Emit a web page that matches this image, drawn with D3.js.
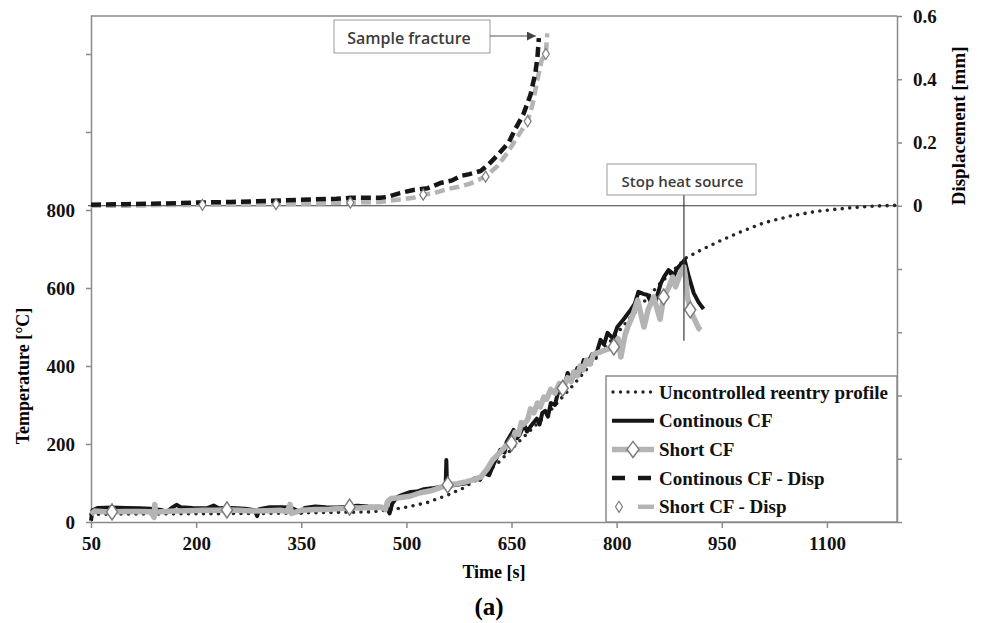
<!DOCTYPE html>
<html>
<head>
<meta charset="utf-8">
<script src="https://cdn.jsdelivr.net/npm/d3@7"></script>
<style>
  body { margin: 0; background: #fff; }
  svg { display: block; }
</style>
</head>
<body>
<div class="chart"></div>
<script>
// time [s] , temperature [°C]
const reentryProfile = [[50,20],[300,22],[450,26],[480,32],[500,38],[530,50],[560,70],[580,86],[600,108],[630,150],[660,205],[700,275],[740,355],[780,440],[820,525],[860,608],[899,677],[920,697],[949,722],[977,744],[1010,767],[1049,785],[1087,797],[1130,805],[1167,810],[1200,812]]

const continousCF = [[50,3],[52,30],[60,36],[80,37],[100,36],[120,35],[135,34],[150,31],[158,26],[165,36],[172,44],[178,38],[195,36],[215,35],[225,42],[232,35],[250,36],[270,34],[284,30],[287,15],[290,33],[305,38],[320,38],[335,37],[350,24],[355,36],[370,40],[385,38],[400,37],[415,39],[430,42],[445,40],[460,39],[472,38],[476,22],[480,48],[487,64],[495,70],[506,77],[515,78],[525,84],[539,87],[550,90],[556,92],[557,159],[558,92],[570,95],[587,100],[598,112],[605,108],[610,126],[618,120],[625,150],[634,185],[640,178],[643,205],[653,236],[658,215],[662,225],[668,250],[672,232],[681,254],[686,265],[690,250],[694,280],[698,285],[702,270],[706,305],[712,300],[716,330],[720,350],[725,340],[730,382],[735,365],[740,375],[744,395],[748,385],[753,415],[758,405],[765,430],[770,425],[777,467],[782,455],[787,485],[795,470],[801,500],[810,520],[820,544],[826,560],[831,590],[838,585],[844,582],[850,560],[856,569],[863,612],[868,630],[874,646],[878,640],[881,628],[886,650],[891,659],[897,672],[903,629],[910,587],[917,563],[924,546]]

const shortCF = [[50,20],[55,28],[70,26],[80,26],[100,27],[120,27],[135,26],[140,12],[141,45],[142,25],[155,27],[170,28],[190,29],[210,30],[230,30],[244,31],[260,30],[280,28],[300,29],[320,30],[330,27],[334,45],[336,22],[350,30],[370,32],[390,33],[410,35],[419,38],[430,36],[450,37],[465,38],[470,32],[473,52],[478,60],[490,62],[505,66],[520,75],[535,80],[548,88],[559,95],[572,98],[585,103],[595,108],[606,115],[615,135],[623,159],[632,175],[642,195],[650,202],[655,230],[660,225],[664,255],[667,250],[673,262],[677,290],[682,280],[687,305],[691,295],[696,320],[700,315],[706,340],[712,330],[718,355],[723,343],[730,370],[735,360],[739,385],[744,375],[748,400],[752,390],[757,415],[762,405],[767,430],[775,435],[782,440],[790,445],[796,449],[802,470],[806,423],[812,480],[816,500],[823,530],[830,569],[835,530],[839,500],[845,545],[853,577],[858,545],[862,520],[867,577],[874,600],[880,628],[884,603],[891,638],[896,654],[899,620],[901,577],[905,544],[911,520],[917,497],[920,492]]
const shortCFMarkerTimes = [80, 244, 419, 559, 650, 723, 796, 867, 905]

// time [s] , displacement [mm]
const continousDisp = [[50,0.003],[100,0.005],[150,0.007],[200,0.01],[250,0.012],[300,0.015],[349,0.019],[400,0.022],[420,0.025],[463,0.025],[473,0.028],[491,0.04],[510,0.05],[530,0.055],[549,0.072],[565,0.08],[577,0.094],[590,0.10],[606,0.11],[617,0.13],[630,0.16],[646,0.20],[656,0.245],[667,0.29],[677,0.35],[684,0.42],[687,0.47],[689,0.53]]

const shortDisp = [[50,0],[100,0],[150,0.002],[209,0.003],[260,0.004],[314,0.005],[370,0.007],[420,0.01],[463,0.012],[490,0.02],[510,0.025],[524,0.035],[540,0.04],[559,0.053],[575,0.06],[591,0.07],[613,0.092],[630,0.126],[644,0.167],[659,0.22],[673,0.267],[680,0.32],[687,0.40],[693,0.46],[699,0.48],[701,0.545]]
const shortDispMarkerTimes = [209, 314, 420, 524, 613, 673, 699]

const xTicks = [50, 200, 350, 500, 650, 800, 950, 1100]
const tempTicks = [0, 200, 400, 600, 800, 1000, 1200]
const tempLabels = [0, 200, 400, 600, 800]
const dispTicks = [-1, -0.8, -0.6, -0.4, -0.2, 0, 0.2, 0.4, 0.6]
const dispLabels = [0, 0.2, 0.4, 0.6]

const legendNames = ["Uncontrolled reentry profile", "Continous CF", "Short CF", "Continous CF - Disp", "Short CF - Disp"]

const colors = {
  black: "#161616",
  grey: "#b4b4b4",
  markerStroke: "#7c7c7c",
  frame: "#8a8a8a",
  text: "#111"
}

const dims = { width: 981, height: 623, left: 91, right: 897, top: 16, bottom: 522 }

const xScale = d3.scaleLinear().domain([50, 1200]).range([dims.left, dims.right])
const yTemp = d3.scaleLinear().domain([0, 1300]).range([dims.bottom, dims.top - 1])
const yDisp = d3.scaleLinear().domain([-1, 0.6]).range([dims.bottom, dims.top])

const tempLine = d3.line().x(d => xScale(d[0])).y(d => yTemp(d[1]))
const dispLine = d3.line().x(d => xScale(d[0])).y(d => yDisp(d[1]))

const serif = "'Liberation Serif', 'Times New Roman', serif"
const sans = "'Open Sans', 'Noto Sans', sans-serif"

const svg = d3.select(".chart").append("svg")
    .attr("width", dims.width)
    .attr("height", dims.height)
    .style("font-family", serif)

// axes
const styleAxis = g => {
  g.select(".domain").attr("stroke", colors.frame).attr("stroke-width", 1.5)
  g.selectAll(".tick line").attr("stroke", colors.frame).attr("stroke-width", 1.5)
  g.selectAll("text")
    .attr("fill", colors.text)
    .style("font-size", "19px")
    .style("font-weight", "bold")
    .style("font-family", serif)
}

svg.append("g")
    .attr("transform", `translate(0,${dims.bottom})`)
    .call(d3.axisBottom(xScale).tickValues(xTicks).tickSize(6).tickPadding(9).tickSizeOuter(0)
      .tickFormat(d3.format("d")))
    .call(styleAxis)

svg.append("g")
    .attr("transform", `translate(${dims.left},0)`)
    .call(d3.axisLeft(yTemp).tickValues(tempTicks).tickSize(5).tickPadding(11).tickSizeOuter(0)
      .tickFormat(d => tempLabels.includes(d) ? d : ""))
    .call(styleAxis)

svg.append("g")
    .attr("transform", `translate(${dims.right},0)`)
    .call(d3.axisRight(yDisp).tickValues(dispTicks).tickSize(5).tickPadding(11).tickSizeOuter(0)
      .tickFormat(d => dispLabels.some(v => Math.abs(v - d) < 1e-9) ? String(+d.toFixed(1)) : ""))
    .call(styleAxis)

// top border of plot area
svg.append("line")
    .attr("x1", dims.left).attr("x2", dims.right)
    .attr("y1", dims.top).attr("y2", dims.top)
    .attr("stroke", colors.frame).attr("stroke-width", 1.5)

// zero line of displacement axis
svg.append("line")
    .attr("x1", dims.left - 3).attr("x2", dims.right)
    .attr("y1", yDisp(0)).attr("y2", yDisp(0))
    .attr("stroke", "#3a3a3a").attr("stroke-width", 1.2)

// axis titles
svg.append("text")
    .attr("transform", `translate(23,${(yTemp(200) + yTemp(600)) / 2 + 10}) rotate(-90)`)
    .attr("text-anchor", "middle")
    .attr("dominant-baseline", "central")
    .style("font-size", "18px").style("font-weight", "bold")
    .text("Temperature [°C]")

svg.append("text")
    .attr("transform", `translate(958,${yDisp(0.3) + 15}) rotate(-90)`)
    .attr("text-anchor", "middle")
    .attr("dominant-baseline", "central")
    .style("font-size", "19px").style("font-weight", "bold")
    .text("Displacement [mm]")

svg.append("text")
    .attr("x", 494).attr("y", 578)
    .attr("text-anchor", "middle")
    .style("font-size", "18px").style("font-weight", "bold")
    .text("Time [s]")

svg.append("text")
    .attr("x", 489).attr("y", 615)
    .attr("text-anchor", "middle")
    .style("font-size", "25px").style("font-weight", "bold")
    .text("(a)")

// series
const plot = svg.append("g")

plot.append("path")
    .attr("d", tempLine(reentryProfile))
    .attr("fill", "none")
    .attr("stroke", "#262626")
    .attr("stroke-width", 3.6)
    .attr("stroke-linecap", "round")
    .attr("stroke-dasharray", "0,7.5")

plot.append("path")
    .attr("d", tempLine(continousCF))
    .attr("fill", "none")
    .attr("stroke", colors.black)
    .attr("stroke-width", 4)
    .attr("stroke-linejoin", "round")

plot.append("path")
    .attr("d", tempLine(shortCF))
    .attr("fill", "none")
    .attr("stroke", colors.grey)
    .attr("stroke-width", 5.5)
    .attr("stroke-linejoin", "round")

plot.append("path")
    .attr("d", dispLine(shortDisp))
    .attr("fill", "none")
    .attr("stroke", colors.grey)
    .attr("stroke-width", 4.5)
    .attr("stroke-dasharray", "10,5")

plot.append("path")
    .attr("d", dispLine(continousDisp))
    .attr("fill", "none")
    .attr("stroke", colors.black)
    .attr("stroke-width", 4.5)
    .attr("stroke-dasharray", "10,5")

const diamond = (w, h) => `M0,${-h / 2}L${w / 2},0L0,${h / 2}L${-w / 2},0Z`

const shortMarkers = shortCFMarkerTimes.map(t => shortCF.find(d => d[0] === t))
plot.selectAll(".short-marker")
  .data(shortMarkers)
  .join("path")
    .attr("class", "short-marker")
    .attr("transform", d => `translate(${xScale(d[0])},${yTemp(d[1])})`)
    .attr("d", diamond(11, 16))
    .attr("fill", "#fff")
    .attr("stroke", colors.markerStroke)
    .attr("stroke-width", 1.5)

const dispMarkers = shortDispMarkerTimes.map(t => shortDisp.find(d => d[0] === t))
plot.selectAll(".disp-marker")
  .data(dispMarkers)
  .join("path")
    .attr("class", "disp-marker")
    .attr("transform", d => `translate(${xScale(d[0])},${yDisp(d[1])})`)
    .attr("d", diamond(7, 11))
    .attr("fill", "#fff")
    .attr("stroke", colors.markerStroke)
    .attr("stroke-width", 1.2)

// annotations
const fractureTip = continousDisp[continousDisp.length - 1]
const fracBox = { x: 334, y: 20, w: 156, h: 33 }
svg.append("defs").append("marker")
    .attr("id", "arrow")
    .attr("viewBox", "0 0 10 10")
    .attr("refX", 10).attr("refY", 5)
    .attr("markerWidth", 9).attr("markerHeight", 9)
    .attr("markerUnits", "userSpaceOnUse")
    .attr("orient", "auto")
  .append("path")
    .attr("d", "M0,0L10,5L0,10Z")
    .attr("fill", "#444")

svg.append("rect")
    .attr("x", fracBox.x).attr("y", fracBox.y)
    .attr("width", fracBox.w).attr("height", fracBox.h)
    .attr("fill", "#fff").attr("stroke", "#9a9a9a")
svg.append("text")
    .attr("x", fracBox.x + fracBox.w / 2 - 3).attr("y", fracBox.y + fracBox.h / 2 + 1)
    .attr("text-anchor", "middle").attr("dominant-baseline", "central")
    .style("font-family", sans).style("font-size", "16px").style("font-weight", 600)
    .attr("fill", "#3c3c3c")
    .text("Sample fracture")
svg.append("line")
    .attr("x1", fracBox.x + fracBox.w).attr("y1", fracBox.y + 16)
    .attr("x2", xScale(fractureTip[0]) - 3).attr("y2", fracBox.y + 16)
    .attr("stroke", "#555").attr("stroke-width", 1.2)
    .attr("marker-end", "url(#arrow)")

const stopTime = 896
const stopBox = { x: 607, y: 164, w: 149, h: 31 }
svg.append("line")
    .attr("x1", xScale(stopTime)).attr("x2", xScale(stopTime))
    .attr("y1", stopBox.y + stopBox.h).attr("y2", yTemp(465))
    .attr("stroke", "#3a3a3a").attr("stroke-width", 1.2)
svg.append("rect")
    .attr("x", stopBox.x).attr("y", stopBox.y)
    .attr("width", stopBox.w).attr("height", stopBox.h)
    .attr("fill", "#fff").attr("stroke", "#9a9a9a")
svg.append("text")
    .attr("x", stopBox.x + stopBox.w / 2 + 1).attr("y", stopBox.y + stopBox.h / 2 + 1)
    .attr("text-anchor", "middle").attr("dominant-baseline", "central")
    .style("font-family", sans).style("font-size", "15px").style("font-weight", 600)
    .attr("fill", "#3c3c3c")
    .text("Stop heat source")

// legend
const legend = svg.append("g")
legend.append("rect")
    .attr("x", 606).attr("y", 376)
    .attr("width", dims.right - 606).attr("height", dims.bottom - 376)
    .attr("fill", "#fff").attr("stroke", colors.frame).attr("stroke-width", 1.5)

const rows = legend.selectAll(".row")
  .data(legendNames)
  .join("g")
    .attr("class", "row")
    .attr("transform", (d, i) => `translate(612,${392 + i * 28.7})`)

rows.append("text")
    .attr("x", 47).attr("y", 0)
    .attr("dominant-baseline", "central")
    .style("font-size", "19px").style("font-weight", "bold")
    .attr("fill", colors.text)
    .text(d => d)

const sample = (i) => rows.filter((d, j) => j === i)

sample(0).append("line")
    .attr("x1", 1).attr("x2", 42).attr("y1", 0).attr("y2", 0)
    .attr("stroke", "#262626").attr("stroke-width", 3.4)
    .attr("stroke-linecap", "round").attr("stroke-dasharray", "0,7.5")

sample(1).append("line")
    .attr("x1", 0).attr("x2", 42).attr("y1", 0).attr("y2", 0)
    .attr("stroke", colors.black).attr("stroke-width", 4)

sample(2).append("line")
    .attr("x1", 0).attr("x2", 42).attr("y1", 0).attr("y2", 0)
    .attr("stroke", colors.grey).attr("stroke-width", 5.5)
sample(2).append("path")
    .attr("transform", "translate(21,0)")
    .attr("d", diamond(12, 16))
    .attr("fill", "#fff").attr("stroke", colors.markerStroke).attr("stroke-width", 1.5)

sample(3).append("line")
    .attr("x1", 0).attr("x2", 42).attr("y1", 0).attr("y2", 0)
    .attr("stroke", colors.black).attr("stroke-width", 4.5)
    .attr("stroke-dasharray", "13,13")

sample(4).append("line")
    .attr("x1", 26).attr("x2", 42).attr("y1", 0).attr("y2", 0)
    .attr("stroke", colors.grey).attr("stroke-width", 4.5)
sample(4).append("path")
    .attr("transform", "translate(7,0)")
    .attr("d", diamond(7, 11))
    .attr("fill", "#fff").attr("stroke", colors.markerStroke).attr("stroke-width", 1.2)
</script>
</body>
</html>
